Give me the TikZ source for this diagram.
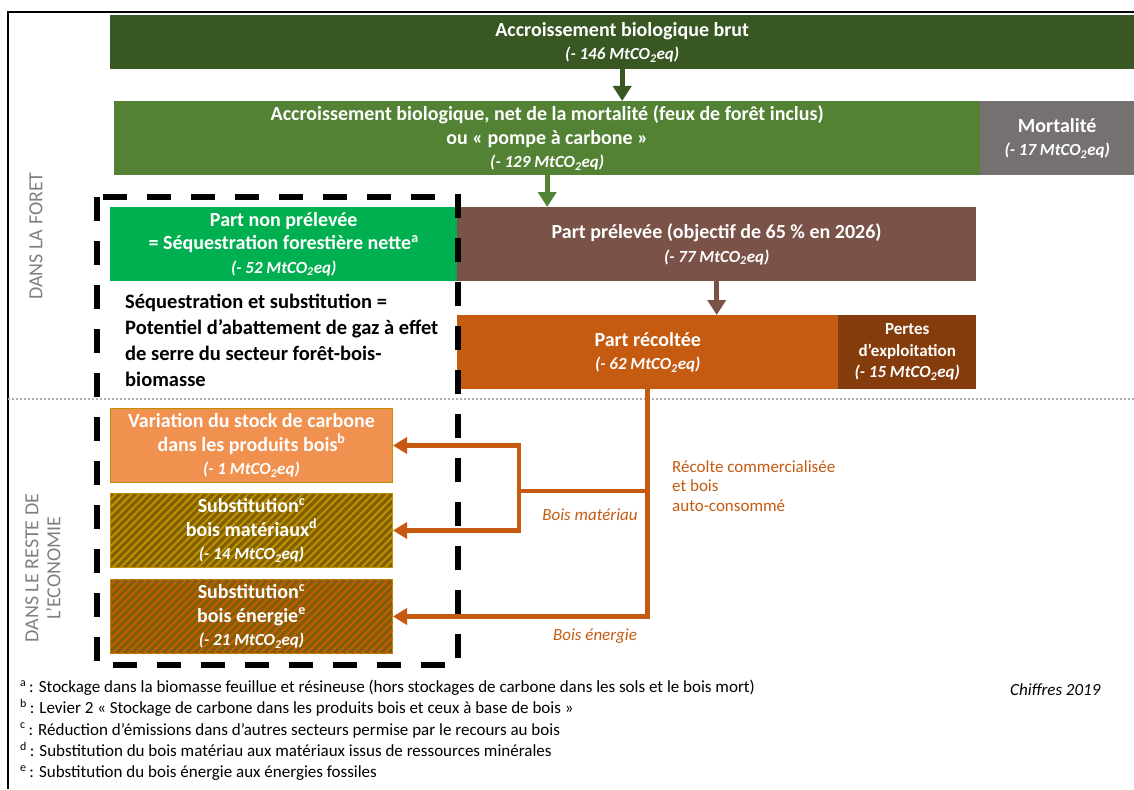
\documentclass[tikz,border=0pt]{standalone}
\usepackage{fontspec}
\setmainfont{Carlito}
\usetikzlibrary{arrows.meta,patterns.meta,positioning}

% Couleurs
\definecolor{vertfonce}{RGB}{56,87,35}
\definecolor{vertnet}{RGB}{84,130,53}
\definecolor{vertvif}{RGB}{0,176,80}
\definecolor{grismort}{RGB}{118,113,113}
\definecolor{brunprel}{RGB}{122,82,72}
\definecolor{orangerec}{RGB}{197,90,17}
\definecolor{brunpertes}{RGB}{132,60,12}
\definecolor{orangestock}{RGB}{240,145,80}
\definecolor{olive}{RGB}{127,96,0}
\definecolor{ocre}{RGB}{191,144,0}
\definecolor{grislabel}{RGB}{128,128,128}
\definecolor{grispoint}{RGB}{175,175,175}

% Valeur en MtCO2eq
\newcommand{\mtco}[1]{{\itshape\fontsize{17}{22}\selectfont(- #1 MtCO\textsubscript{2}eq)}}

\tikzset{
    bloc/.style={anchor=north west, inner sep=0pt, minimum height=74pt, align=center,
        text=white, font=\bfseries\fontsize{20}{23.5}\selectfont},
    eco/.style={bloc, minimum width=282pt, minimum height=74pt, draw=ocre, line width=1pt},
    raye/.style={eco, fill=olive, postaction={pattern={Lines[angle=45,distance=5.5pt,line width=2pt]}, pattern color=#1}},
    fleche/.style={line width=5pt, -{Triangle[length=15pt,width=18pt]}},
    flux/.style={line width=4.5pt, draw=orangerec, -{Triangle[length=14pt,width=16pt]}},
    zone/.style={text=grislabel, font=\fontsize{20}{22}\selectfont, rotate=90, align=center},
    legende/.style={text=orangerec, font=\itshape\fontsize{17}{20}\selectfont},
}

\begin{document}
\begin{tikzpicture}[x=1pt,y=-1pt]
    \useasboundingbox (0,0) rectangle (1134,789);

    % Cadre
    \draw[line width=2pt] (8,789) -- (8,12) -- (1134,12);

    % Dans la forêt
    \node[bloc, fill=vertfonce, minimum width=1024pt, minimum height=54pt] (brut) at (110,15)
        {Accroissement biologique brut\\\mtco{146}};
    \node[bloc, fill=vertnet, minimum width=866pt] (net) at (114,101)
        {Accroissement biologique, net de la mortalité (feux de forêt inclus)\\ou « pompe à carbone »\\\mtco{129}};
    \node[bloc, fill=grismort, minimum width=154pt] (mort) at (980,101)
        {Mortalité\\\mtco{17}};
    \node[bloc, fill=vertvif, minimum width=347pt] (nonprel) at (110,207)
        {Part non prélevée\\= Séquestration forestière nette\textsuperscript{a}\\\mtco{52}};
    \node[bloc, fill=brunprel, minimum width=519pt] (prel) at (457,207)
        {Part prélevée (objectif de 65 \% en 2026)\\\mtco{77}};
    \node[bloc, fill=orangerec, minimum width=381pt] (recolte) at (457,315)
        {Part récoltée\\\mtco{62}};
    \node[bloc, fill=brunpertes, minimum width=138pt, font=\bfseries\fontsize{17}{21.5}\selectfont] (pertes) at (838,315)
        {Pertes\\d’exploitation\\\mtco{15}};

    \node[anchor=north west, inner sep=0pt, align=left, font=\bfseries\fontsize{20.5}{26}\selectfont] (potentiel) at (125,294)
        {Séquestration et substitution =\\Potentiel d’abattement de gaz à effet\\de serre du secteur forêt-bois-\\biomasse};

    % Flèches forêt
    \draw[fleche, vertfonce] (brut.south) -- (brut.south |- net.north);
    \draw[fleche, vertnet] (net.south) -- (net.south |- prel.north);
    \draw[fleche, brunprel] (prel.south) -- (prel.south |- recolte.north);

    % Séparation forêt / économie
    \draw[grispoint, line width=1.5pt, dash pattern=on 1.5pt off 2.5pt] (8,399) -- (1134,399);

    % Dans le reste de l'économie
    \node[eco, fill=orangestock] (stock) at (110,408)
        {Variation du stock de carbone\\dans les produits bois\textsuperscript{b}\\\mtco{1}};
    \node[raye=ocre] (mat) at (110,493)
        {Substitution\textsuperscript{c}\\bois matériaux\textsuperscript{d}\\\mtco{14}};
    \node[raye=orangerec] (energie) at (110,579)
        {Substitution\textsuperscript{c}\\bois énergie\textsuperscript{e}\\\mtco{21}};

    % Flux de bois
    \coordinate (bif) at (519,491);
    \draw[flux, -] (recolte.south |- bif) -- (bif);
    \draw[flux] (bif) |- (stock.east);
    \draw[flux] (bif) |- (mat.east);
    \draw[flux] (recolte.south) |- (energie.east);

    \node[legende] (lmat) at (590,515) {Bois matériau};
    \node[legende] (lener) at (595,636) {Bois énergie};
    \node[anchor=north west, inner sep=0pt, align=left, text=orangerec, font=\fontsize{17}{19.5}\selectfont] (lrec) at (672,460)
        {Récolte commercialisée\\et bois\\auto-consommé};

    % Périmètre séquestration + substitution
    \draw[line width=6pt, dash pattern=on 24pt off 20pt] (97,197) rectangle (458,665);

    % Zones
    \node[zone] (foret) at (36,236) {DANS LA FORET};
    \node[zone] (reste) at (43,568) {DANS LE RESTE DE\\L’ECONOMIE};

    % Notes
    \node[anchor=north west, inner sep=0pt, align=left, font=\fontsize{17}{21.25}\selectfont] (notes) at (20,680)
        {\textsuperscript{a}\,: Stockage dans la biomasse feuillue et résineuse (hors stockages de carbone dans les sols et le bois mort)\\
         \textsuperscript{b}\,: Levier 2 « Stockage de carbone dans les produits bois et ceux à base de bois »\\
         \textsuperscript{c}\,: Réduction d’émissions dans d’autres secteurs permise par le recours au bois\\
         \textsuperscript{d}\,: Substitution du bois matériau aux matériaux issus de ressources minérales\\
         \textsuperscript{e}\,: Substitution du bois énergie aux énergies fossiles};
    \node[anchor=east, font=\itshape\fontsize{17}{20}\selectfont] (chiffres) at (1104,690) {Chiffres 2019};
\end{tikzpicture}
\end{document}
